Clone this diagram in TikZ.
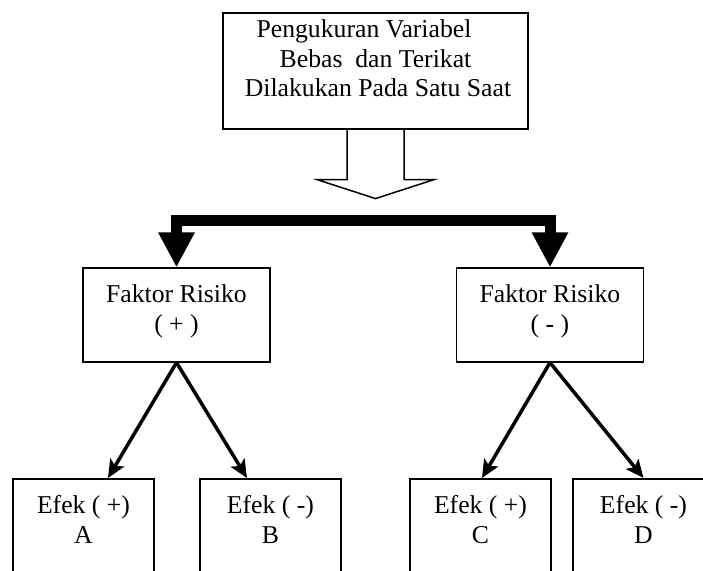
\documentclass[tikz,border=0pt]{standalone}
\usepackage{fontspec}
\setmainfont{Liberation Serif}
\usetikzlibrary{arrows.meta}

\tikzset{
    box/.style={draw, line width=1.6pt, align=center, inner xsep=0pt, inner ysep=0pt,
        font=\fontsize{25.7}{29.5}\selectfont},
    faktorbox/.style={box, minimum width=187pt, text height=64.2pt, text depth=29.3pt},
    efekbox/.style={box, anchor=north, minimum width=141pt, text height=64.5pt, text depth=40pt},
    hollow/.style={line width=1.5pt},
    bar/.style={line width=11pt, -{Triangle[length=35pt,width=34pt]}},
    arr/.style={line width=3.5pt, -{Stealth[length=18pt,width=16pt,inset=4pt]}}
}

\begin{document}
\begin{tikzpicture}[x=1pt,y=-1pt]
    \useasboundingbox (0,0) rectangle (703,570);

    % Draw the top box
    \node[box, anchor=north, minimum width=305pt, text height=84pt, text depth=32pt] (top) at (375.5,12)
        {Pengukuran Variabel\hspace*{23pt}\\ Bebas\ \ dan Terikat\\ \hspace*{5pt}Dilakukan Pada Satu Saat};

    % Draw the hollow block arrow below it
    \draw[hollow] (top.south) ++(-28.5,0) -- ++(0,50) -- ++(-30,0) -- ++(58.5,19)
        -- ++(58.5,-19) -- ++(-30,0) -- ++(0,-50);

    % Draw the two risk factor boxes
    \node[faktorbox] (fr1) at (176.5,315) {Faktor Risiko\\ ( + )};
    \node[faktorbox] (fr2) at (550,315) {Faktor Risiko\\ ( - )};

    % Draw the thick bar with its two heads
    \coordinate (split) at (363.5,220.5);
    \draw[bar] (split) -| (fr1.north);
    \draw[bar] (split) -| (fr2.north);

    % Draw the effect boxes (D runs past the right edge)
    \foreach \x/\s/\n in {83.5/+/A, 270.5/-/B, 480.5/+/C, 643.5/-/D} {
        \node[efekbox] (ef\n) at (\x,478) {Efek ( \s )\\ \n};
    }

    % Draw arrows from the factors to the effects
    \foreach \f/\n/\dx in {fr1/A/24.5, fr1/B/-23.5, fr2/C/1.5, fr2/D/0} {
        \draw[arr] (\f.south) -- ([xshift=\dx pt]ef\n.north);
    }

\end{tikzpicture}
\end{document}
